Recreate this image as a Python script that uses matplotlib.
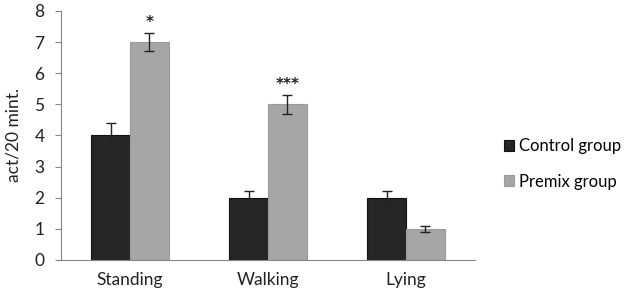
import matplotlib
matplotlib.use("Agg")
import matplotlib.pyplot as plt
import numpy as np

categories = ["Standing", "Walking", "Lying"]
control = [4, 2, 2]
control_err = [0.4, 0.2, 0.2]
premix = [7, 5, 1]
premix_err = [0.3, 0.3, 0.1]
stars = ["*", "***", ""]

plt.rcParams['font.family'] = ['Lato', 'DejaVu Sans']

fig = plt.figure(figsize=(6.24, 2.96), dpi=100)
ax = fig.add_axes([0.098, 0.122, 0.663, 0.841])

x = np.arange(len(categories))
w = 0.28
ax.bar(x - w/2, control, w, color="#262626", edgecolor="#111111", linewidth=0.8,
       yerr=control_err, capsize=3.5, error_kw=dict(ecolor="#222222", elinewidth=1, capthick=1),
       label="Control group", zorder=2)
ax.bar(x + w/2, premix, w, color="#a6a6a6", edgecolor="#9a9a9a", linewidth=0.8,
       yerr=premix_err, capsize=3.5, error_kw=dict(ecolor="#222222", elinewidth=1, capthick=1),
       label="Premix group", zorder=2)

for i, s in enumerate(stars):
    if s:
        ax.text(x[i] + w/2, premix[i] + premix_err[i] + 0.1, s, ha="center", va="bottom",
                fontsize=11, fontweight="bold", color="#222222", family="DejaVu Sans")

ax.set_xlim(-0.5, 2.5)
ax.set_ylim(0, 8)
ax.set_yticks(range(0, 9))
ax.set_xticks(x)
ax.set_xticklabels(categories)
ax.tick_params(axis="x", length=0, pad=9, labelsize=12.5, colors="#222222")
ax.tick_params(axis="y", length=4, width=0.8, color="#868686", labelsize=12.5, pad=8, labelcolor="#222222")
for sp in ["top", "right"]:
    ax.spines[sp].set_visible(False)
for sp in ["left", "bottom"]:
    ax.spines[sp].set_color("#868686")
    ax.spines[sp].set_linewidth(0.8)
ax.set_ylabel("act/20 mint.", fontsize=12.5, color="#222222", labelpad=9)

ax.legend(loc="center left", bbox_to_anchor=(1.033, 0.385), frameon=False, fontsize=12,
          handlelength=0.6, handleheight=0.6, handletextpad=0.3, labelspacing=1.15)

fig.savefig("out.png", dpi=100)
